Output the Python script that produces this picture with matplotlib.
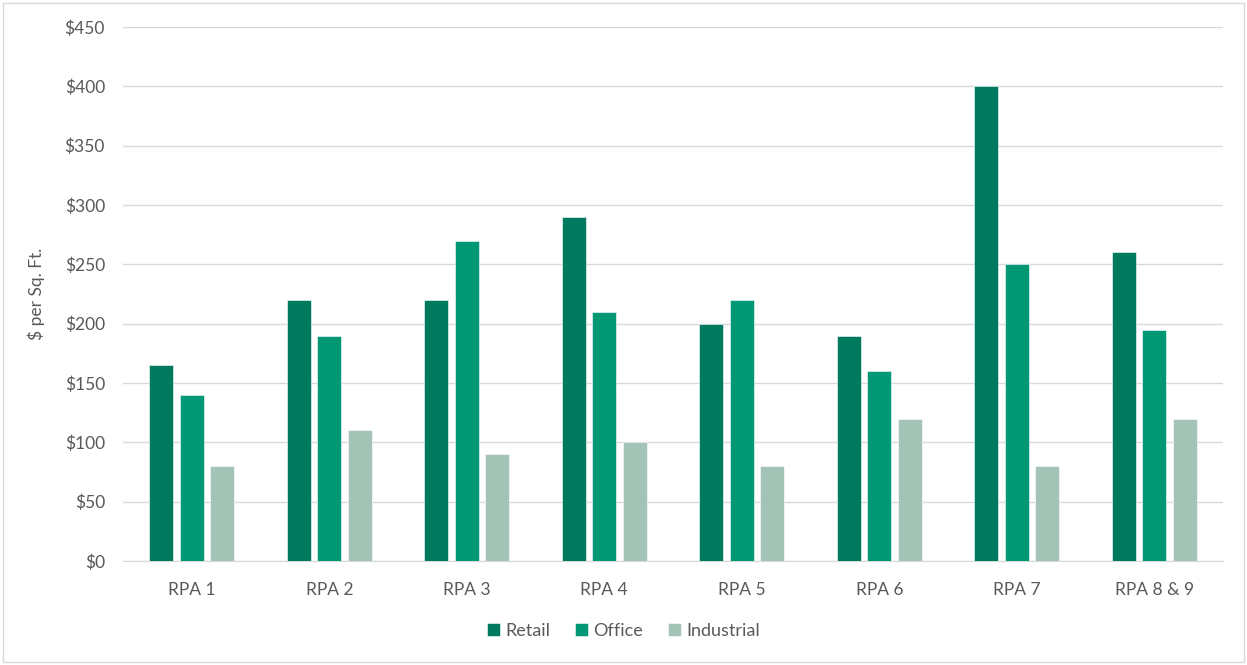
import matplotlib.pyplot as plt
import numpy as np
from matplotlib.patches import Rectangle

# Average rents by area and property type
areas = ["RPA 1", "RPA 2", "RPA 3", "RPA 4", "RPA 5", "RPA 6", "RPA 7", "RPA 8 & 9"]
retail = [165, 220, 220, 290, 200, 190, 400, 260]
office = [140, 190, 270, 210, 220, 160, 250, 195]
industrial = [80, 110, 90, 100, 80, 120, 80, 120]

series = [("Retail", retail, "#007A5E"),
          ("Office", office, "#009874"),
          ("Industrial", industrial, "#A2C3B5")]

plt.rcParams['font.family'] = ['Lato', 'DejaVu Sans']
text_color = "#595959"

fig = plt.figure(figsize=(12.47, 6.65), dpi=100)
ax = fig.add_axes([123 / 1247, 1 - 561 / 665, 1100 / 1247, 534 / 665])

x = np.arange(len(areas))
width = 0.175
step = 0.222
for i, (name, vals, color) in enumerate(series):
    ax.bar(x + (i - 1) * step, vals, width, color=color, label=name,
           edgecolor="white", linewidth=0.4, zorder=3)

ax.set_xlim(-0.5, len(areas) - 0.5)
ax.set_ylim(0, 450)
ax.set_yticks(range(0, 451, 50))
ax.set_yticklabels([f"${v}" for v in range(0, 451, 50)])
ax.set_xticks(x)
ax.set_xticklabels(areas)

ax.grid(axis='y', color="#D9D9D9", linewidth=1, zorder=0)
for side in ["top", "right", "left"]:
    ax.spines[side].set_visible(False)
ax.spines["bottom"].set_color("#D9D9D9")
ax.tick_params(axis='both', length=0, labelsize=12.5, colors=text_color)
ax.tick_params(axis='y', pad=13)
ax.tick_params(axis='x', pad=15)

ax.set_ylabel("$ per Sq. Ft.", fontsize=12.5, color=text_color, labelpad=14)

fig.legend(loc="center", bbox_to_anchor=(0.5, 1 - 631 / 665), ncol=3, frameon=False,
           fontsize=13, labelcolor=text_color, handlelength=0.7, handleheight=0.7,
           handletextpad=0.3, columnspacing=1.4)

# outer chart border
fig.patches.append(Rectangle((3 / 1247, 3 / 665), 1 - 6 / 1247, 1 - 6 / 665,
                             transform=fig.transFigure, fill=False,
                             edgecolor="#D9D9D9", linewidth=1))

fig.savefig("out.png", dpi=100)
